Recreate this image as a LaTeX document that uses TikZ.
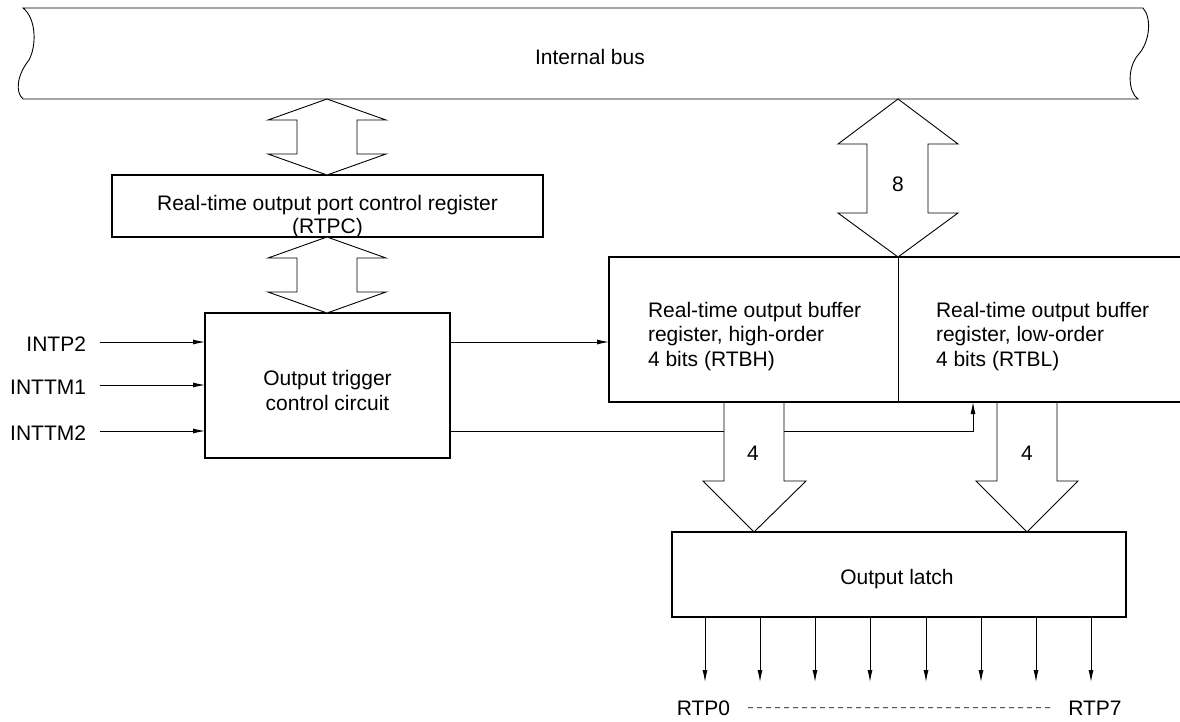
\documentclass[tikz,border=0pt]{standalone}
\usepackage{fontspec}
\setmainfont{Liberation Sans}
\usetikzlibrary{arrows.meta,calc}
\begin{document}
\begin{tikzpicture}[x=1pt,y=-1pt,
  font=\fontsize{21}{24.5}\selectfont,
  wire/.style={line width=0.9pt},
  boxnode/.style={draw, line width=2pt, inner sep=0pt, outer sep=0pt},
  arr/.style={line width=0.9pt, -{Latex[length=12pt,width=5pt]}},
  bigarrow/.style={draw, line width=0.9pt, fill=white, line join=miter},
  txt/.style={inner sep=0pt, outer sep=0pt}]
\useasboundingbox (0,0) rectangle (1180,721);
\clip (0,0) rectangle (1180,721);

% internal bus
\draw[wire] (23,8) -- (1143,8)
  .. controls (1152,18) and (1150,42) .. (1138,55)
  .. controls (1127,68) and (1128,92) .. (1138,99)
  -- (23,99)
  .. controls (15,92) and (17,75) .. (29,60)
  .. controls (37,45) and (36,18) .. cycle;
\node[txt, anchor=base] (bus) at (590,64.5) {Internal bus};

% boxes
\node[boxnode, minimum width=431pt, minimum height=62pt] (rtpc) at (327.5,206) {};
\node[txt, align=center, font=\fontsize{21}{23}\selectfont] (rtpctext) at (327.5,216.5) {Real-time output port control register\\(RTPC)};

\node[boxnode, minimum width=245pt, minimum height=145pt] (trig) at (327.5,385.5) {};
\node[txt, align=center, font=\fontsize{21}{25}\selectfont] (trigtext) at (327.5,390) {Output trigger\\control circuit};

\node[boxnode, minimum width=590pt, minimum height=145pt] (rtb) at (904,329.5) {};
\coordinate (div) at (898,0);
\draw[wire] (rtb.north -| div) -- (rtb.south -| div);
\node[txt, align=left, anchor=west] (rtbh) at (648,336.5) {Real-time output buffer\\register, high-order\\4 bits (RTBH)};
\node[txt, align=left, anchor=west] (rtbl) at (936,336.5) {Real-time output buffer\\register, low-order\\4 bits (RTBL)};

\node[boxnode, minimum width=454pt, minimum height=85pt] (latch) at (899,574.5) {};
\node[txt, anchor=base] (latchtext) at (897,584.3) {Output latch};

% inputs
\coordinate (in1) at (100,342);
\coordinate (in2) at (100,385);
\coordinate (in3) at (100,431);
\node[txt, anchor=base east] (intp2) at (86,351.7) {INTP2};
\node[txt, anchor=base east] (inttm1) at (86,394.3) {INTTM1};
\node[txt, anchor=base east] (inttm2) at (86,440) {INTTM2};
\draw[arr] (in1) -- (in1 -| trig.west);
\draw[arr] (in2) -- (in2 -| trig.west);
\draw[arr] (in3) -- (in3 -| trig.west);

% trigger outputs
\draw[arr] (trig.east |- in1) -- (rtb.west |- in1);
\coordinate (up) at (973,431);
\draw[arr] (trig.east |- in3) -- (up) -- (up |- rtb.south);

% wide double arrows
\draw[bigarrow] (327,99) -- (386,120) -- (357,120) -- (357,154) -- (386,154) -- (327,175)
  -- (268,154) -- (297,154) -- (297,120) -- (268,120) -- cycle;
\draw[bigarrow] (327,237) -- (386,258) -- (357,258) -- (357,292) -- (386,292) -- (327,313)
  -- (268,292) -- (297,292) -- (297,258) -- (268,258) -- cycle;
\draw[bigarrow] (898,99) -- (958,144) -- (928,144) -- (928,213) -- (958,213) -- (898,257)
  -- (838,213) -- (867,213) -- (867,144) -- (838,144) -- cycle;
\node[txt, anchor=base] (n8) at (898,191) {8};

% wide down arrows
\fill[white] (724,403.5) -- (784,403.5) -- (784,481) -- (806,481) -- (754,532) -- (703,481) -- (724,481) -- cycle;
\draw[wire, line join=miter] (724,403) -- (724,481) -- (703,481) -- (754,532) -- (806,481) -- (784,481) -- (784,403);
\fill[white] (997,403.5) -- (1057,403.5) -- (1057,481) -- (1078,481) -- (1027,532) -- (976,481) -- (997,481) -- cycle;
\draw[wire, line join=miter] (997,403) -- (997,481) -- (976,481) -- (1027,532) -- (1078,481) -- (1057,481) -- (1057,403);
\node[txt, anchor=base] (n4a) at (753,460) {4};
\node[txt, anchor=base] (n4b) at (1027,460) {4};

% outputs
\foreach \i/\x in {0/705,1/760,2/815,3/870,4/926,5/981,6/1036,7/1091} {
  \coordinate (o\i) at (\x,682);
  \draw[arr] (latch.south -| o\i) -- (o\i);
}
\node[txt, anchor=base] (rtp0) at (703.5,715) {RTP0};
\node[txt, anchor=base] (rtp7) at (1095,715) {RTP7};
\draw[wire, dash pattern=on 5pt off 4pt] ([xshift=18pt]rtp0.east) -- ([xshift=-15pt]rtp7.west);
\end{tikzpicture}
\end{document}
